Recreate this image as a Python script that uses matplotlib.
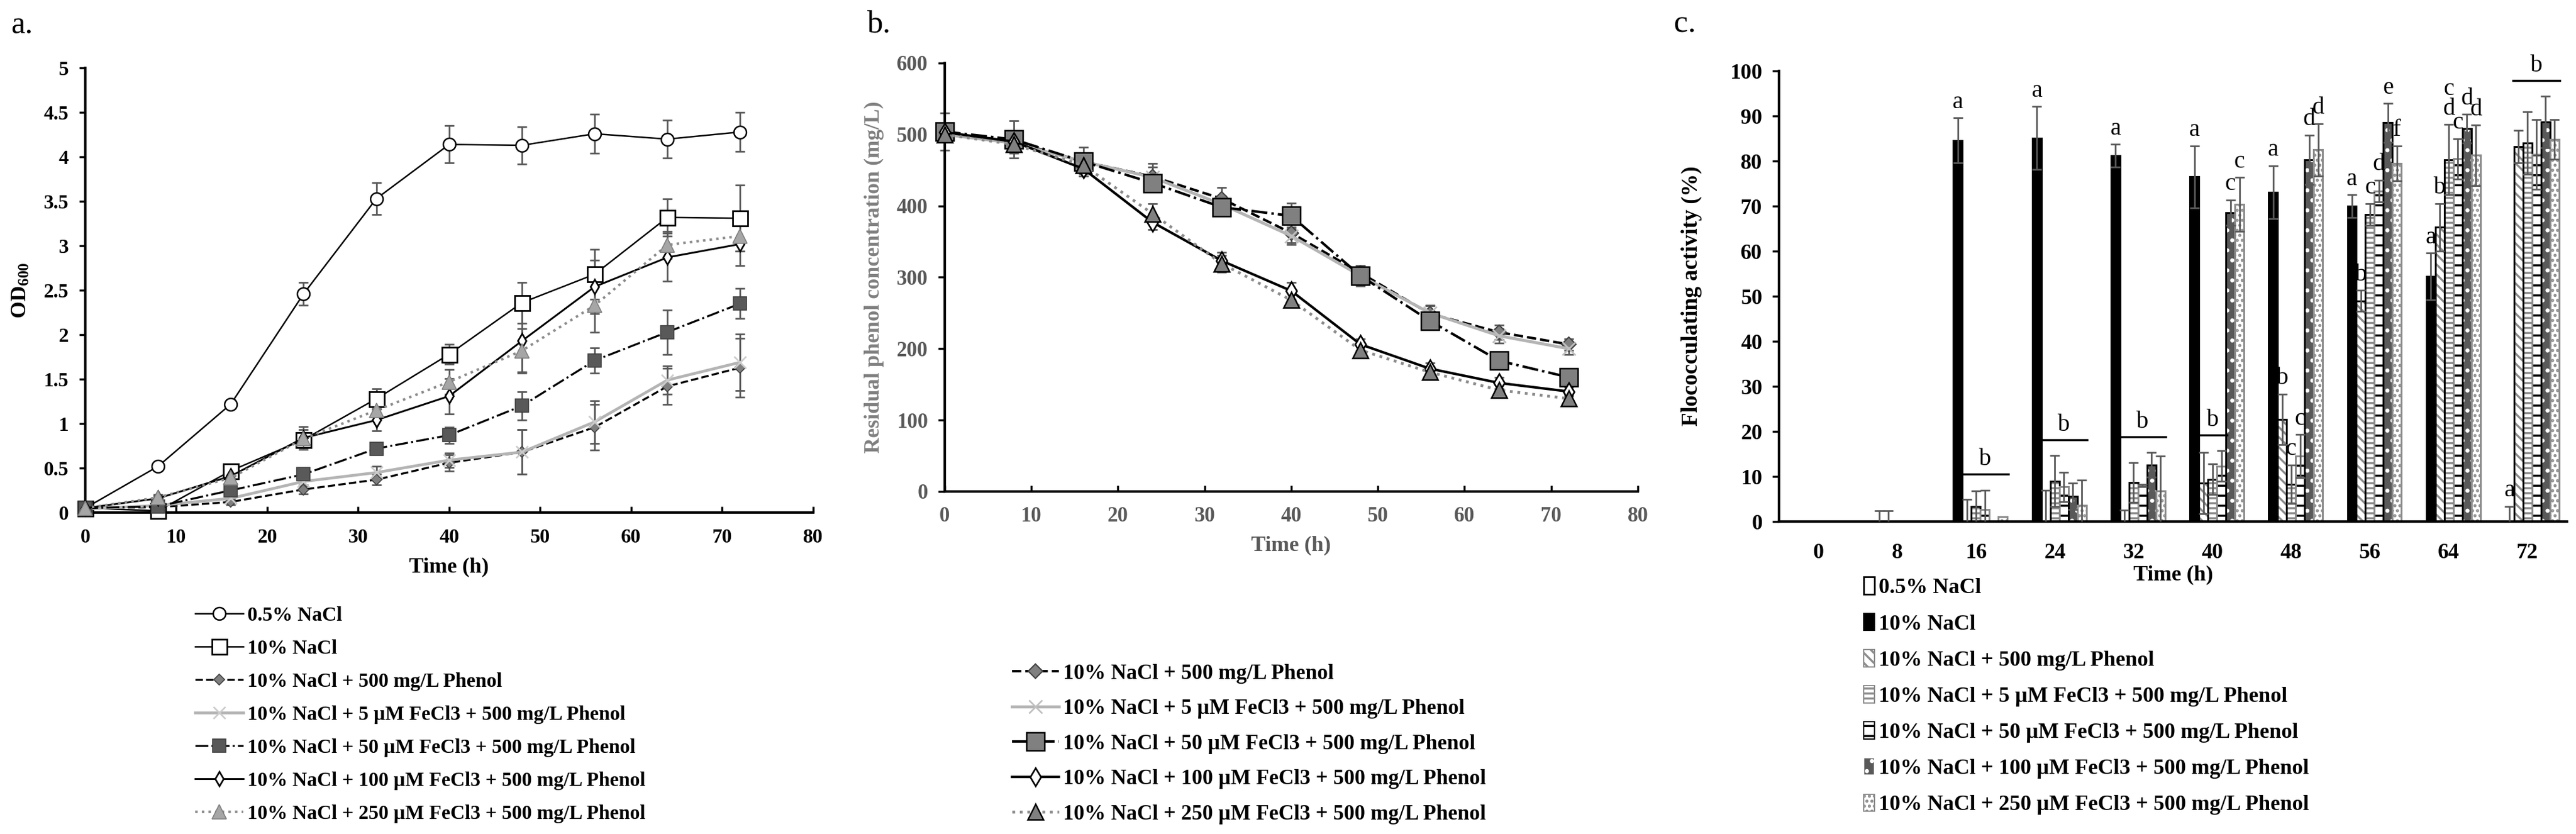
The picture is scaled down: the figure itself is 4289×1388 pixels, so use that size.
import matplotlib
matplotlib.use("Agg")
import matplotlib.pyplot as plt
from matplotlib.lines import Line2D
from matplotlib.patches import Patch
import numpy as np

plt.rcParams['font.family'] = ['Liberation Serif', 'DejaVu Serif']
plt.rcParams['mathtext.fontset'] = 'custom'
plt.rcParams['mathtext.rm'] = 'Liberation Serif:bold'
plt.rcParams['mathtext.it'] = 'Liberation Serif:bold'
plt.rcParams['mathtext.bf'] = 'Liberation Serif:bold'
plt.rcParams['hatch.linewidth'] = 2.5

# sampling times (h)
time = [0, 8, 16, 24, 32, 40, 48, 56, 64, 72]

names = ["0.5% NaCl",
         "10% NaCl",
         "10% NaCl + 500 mg/L Phenol",
         "10% NaCl + 5 µM FeCl3 + 500 mg/L Phenol",
         "10% NaCl + 50 µM FeCl3 + 500 mg/L Phenol",
         "10% NaCl + 100 µM FeCl3 + 500 mg/L Phenol",
         "10% NaCl + 250 µM FeCl3 + 500 mg/L Phenol"]

# a. growth, OD600
od_05 = [0.05, 0.52, 1.22, 2.46, 3.53, 4.14, 4.13, 4.26, 4.20, 4.28]
od_05_err = [0.02, 0.04, 0.05, 0.13, 0.18, 0.21, 0.21, 0.22, 0.21, 0.22]
od_10 = [0.05, 0.02, 0.47, 0.82, 1.28, 1.78, 2.36, 2.68, 3.32, 3.31]
od_10_err = [0.02, 0.03, 0.05, 0.08, 0.11, 0.11, 0.23, 0.28, 0.21, 0.37]
od_ph = [0.05, 0.06, 0.12, 0.26, 0.37, 0.56, 0.68, 0.96, 1.42, 1.63]
od_ph_err = [0.01, 0.02, 0.03, 0.05, 0.06, 0.09, 0.25, 0.26, 0.20, 0.33]
od_fe5 = [0.04, 0.08, 0.16, 0.35, 0.45, 0.59, 0.68, 1.02, 1.49, 1.69]
od_fe5_err = [0.01, 0.02, 0.03, 0.05, 0.07, 0.08, 0.25, 0.24, 0.16, 0.32]
od_fe50 = [0.05, 0.07, 0.25, 0.43, 0.72, 0.87, 1.20, 1.71, 2.03, 2.35]
od_fe50_err = [0.01, 0.02, 0.04, 0.06, 0.05, 0.09, 0.16, 0.14, 0.25, 0.17]
od_fe100 = [0.05, 0.16, 0.41, 0.84, 1.04, 1.31, 1.93, 2.54, 2.87, 3.02]
od_fe100_err = [0.01, 0.03, 0.05, 0.13, 0.12, 0.20, 0.35, 0.30, 0.27, 0.24]
od_fe250 = [0.05, 0.17, 0.39, 0.83, 1.15, 1.47, 1.82, 2.33, 3.01, 3.11]
od_fe250_err = [0.01, 0.03, 0.05, 0.10, 0.11, 0.14, 0.25, 0.30, 0.15, 0.17]

# b. residual phenol (mg/L)
ph_ph = [502, 490, 462, 441, 410, 362, 306, 249, 223, 206]
ph_ph_err = [12, 14, 10, 18, 16, 14, 10, 12, 10, 8]
ph_fe5 = [500, 488, 462, 440, 402, 358, 302, 250, 218, 200]
ph_fe5_err = [10, 12, 10, 14, 12, 12, 10, 10, 10, 8]
ph_fe50 = [504, 493, 462, 432, 398, 386, 302, 239, 183, 160]
ph_fe50_err = [26, 26, 20, 10, 10, 18, 14, 10, 8, 6]
ph_fe100 = [503, 490, 452, 377, 323, 281, 206, 172, 152, 140]
ph_fe100_err = [10, 12, 10, 10, 12, 12, 8, 8, 8, 6]
ph_fe250 = [500, 486, 457, 389, 319, 268, 198, 167, 142, 130]
ph_fe250_err = [10, 12, 12, 14, 12, 10, 8, 8, 8, 6]

# c. flocculating activity (%)
fl_05 = [0, 0, 0, 0, 0, 0, 0, 0, 0, 0]
fl_05_err = [0, 0, 0, 0, 0, 0, 0, 0, 0, 0]
fl_10 = [0, 0, 84.6, 85.1, 81.2, 76.5, 73.1, 70.0, 54.4, 0]
fl_10_err = [0, 2.4, 5.0, 7.0, 2.5, 6.9, 5.9, 2.5, 5.2, 3.4]
fl_ph = [0, 0, 0, 0, 0, 8.5, 22.7, 49.0, 65.3, 83.2]
fl_ph_err = [0, 2.4, 5.0, 7.0, 2.5, 6.8, 5.6, 2.3, 5.3, 3.6]
fl_fe5 = [0, 0, 3.3, 9.0, 8.7, 9.4, 8.3, 68.2, 80.3, 84.0]
fl_fe5_err = [0, 0, 3.5, 5.7, 4.4, 3.4, 4.3, 2.4, 7.8, 6.9]
fl_fe50 = [0, 0, 2.7, 7.7, 8.0, 12.3, 14.5, 73.4, 80.5, 81.5]
fl_fe50_err = [0, 0, 4.3, 3.3, 0.3, 3.4, 4.8, 2.4, 4.5, 7.7]
fl_fe100 = [0, 0, 0, 5.6, 12.6, 68.6, 80.3, 88.5, 87.2, 88.7]
fl_fe100_err = [0, 0, 0, 2.9, 2.7, 2.8, 5.5, 4.3, 3.2, 5.7]
fl_fe250 = [0, 0, 1.1, 3.6, 6.8, 70.4, 82.5, 79.5, 81.3, 84.8]
fl_fe250_err = [0, 0, 0, 5.6, 7.7, 6.0, 5.8, 3.9, 6.7, 4.4]

# significance letters: (time index, bar index, letter)
letters = [(2, 1, 'a'), (3, 1, 'a'), (4, 1, 'a'), (5, 1, 'a'), (5, 5, 'c'), (5, 6, 'c'),
           (6, 1, 'a'), (6, 2, 'b'), (6, 3, 'c'), (6, 4, 'c'), (6, 5, 'd'), (6, 6, 'd'),
           (7, 1, 'a'), (7, 2, 'b'), (7, 3, 'c'), (7, 4, 'd'), (7, 5, 'e'), (7, 6, 'f'),
           (8, 1, 'a'), (8, 2, 'b'), (8, 3, 'c\nd'), (8, 4, 'c'), (8, 5, 'd'), (8, 6, 'd'),
           (9, 1, 'a')]
# bars sharing one letter under a line: (time index, first bar, last bar)
groups = [(2, 2, 6), (3, 2, 6), (4, 2, 6), (5, 2, 4), (9, 2, 6)]

err_col = '#595959'

fig = plt.figure(figsize=(42.89, 13.88), dpi=100)

# ---------------- a. ----------------
ax1 = fig.add_axes([0.0331, 0.3854, 0.2825, 0.5331])
a_vals = [od_05, od_10, od_ph, od_fe5, od_fe50, od_fe100, od_fe250]
a_errs = [od_05_err, od_10_err, od_ph_err, od_fe5_err, od_fe50_err, od_fe100_err, od_fe250_err]
a_styles = [
    dict(color='black', ls='-', lw=1.8, marker='o', ms=15, mfc='white', mec='black', mew=1.8),
    dict(color='black', ls='-', lw=1.8, marker='s', ms=18, mfc='white', mec='black', mew=2),
    dict(color='black', ls='--', lw=2.4, marker='D', ms=9, mfc='#7f7f7f', mec='#404040', mew=1.2),
    dict(color='#b4b4b4', ls='-', lw=3.4, marker='x', ms=14, mec='#cccccc', mew=2),
    dict(color='black', ls='-.', lw=2.4, marker='s', ms=16, mfc='#595959', mec='#404040', mew=1.2),
    dict(color='black', ls='-', lw=2.2, marker='d', ms=12, mfc='white', mec='black', mew=2),
    dict(color='#8c8c8c', ls=':', lw=3, marker='^', ms=17, mfc='#a6a6a6', mec='#7f7f7f', mew=1.2),
]
for vals, errs in zip(a_vals, a_errs):
    ax1.errorbar(time, vals, yerr=errs, fmt='none', ecolor=err_col, elinewidth=2,
                 capsize=6, capthick=2, clip_on=False)
a_handles = []
for vals, st in zip(a_vals, a_styles):
    ax1.plot(time, vals, clip_on=False, zorder=3, **st)
    a_handles.append(Line2D([], [], **st))

ax1.set_xlim(0, 80)
ax1.set_ylim(0, 5)
ax1.set_xticks(range(0, 81, 10))
ax1.set_yticks(np.arange(0, 5.01, 0.5))
ax1.set_yticklabels(['0', '0.5', '1', '1.5', '2', '2.5', '3', '3.5', '4', '4.5', '5'])
ax1.tick_params(axis='x', direction='in', length=7, width=2.5, pad=19, labelsize=24)
ax1.tick_params(axis='y', direction='out', length=7, width=2.5, pad=13, labelsize=24)
for lab in ax1.get_xticklabels() + ax1.get_yticklabels():
    lab.set_fontweight('bold')
for sp in ['top', 'right']:
    ax1.spines[sp].set_visible(False)
for sp in ['left', 'bottom']:
    ax1.spines[sp].set_linewidth(3)
ax1.set_xlabel('Time (h)', fontsize=26, fontweight='bold')
ax1.set_ylabel('OD$_{600}$', fontsize=26, fontweight='bold')
ax1.xaxis.set_label_coords(0.5, -0.1)
ax1.yaxis.set_label_coords(-0.074, 0.5)
fig.legend(a_handles, names, loc='upper left', bbox_to_anchor=(0.0758, 0.2730),
           frameon=False, prop={'size': 24, 'weight': 'bold'}, handlelength=2.4,
           handletextpad=0.2, labelspacing=0.72, borderpad=0, borderaxespad=0)

# ---------------- b. ----------------
ax2 = fig.add_axes([0.3667, 0.4107, 0.2691, 0.5137])
b_vals = [ph_ph, ph_fe5, ph_fe50, ph_fe100, ph_fe250]
b_errs = [ph_ph_err, ph_fe5_err, ph_fe50_err, ph_fe100_err, ph_fe250_err]
b_styles = [
    dict(color='black', ls='--', lw=3, marker='D', ms=12, mfc='#808080', mec='#404040', mew=1.5),
    dict(color='#b4b4b4', ls='-', lw=3.6, marker='x', ms=16, mec='#bfbfbf', mew=2),
    dict(color='black', ls='-.', lw=3, marker='s', ms=21, mfc='#808080', mec='black', mew=1.8),
    dict(color='black', ls='-', lw=3, marker='d', ms=15, mfc='white', mec='black', mew=2),
    dict(color='#8c8c8c', ls=':', lw=3.4, marker='^', ms=19, mfc='#808080', mec='black', mew=1.8),
]
for vals, errs in zip(b_vals, b_errs):
    ax2.errorbar(time, vals, yerr=errs, fmt='none', ecolor=err_col, elinewidth=2,
                 capsize=6, capthick=2, clip_on=False)
b_handles = []
for vals, st in zip(b_vals, b_styles):
    ax2.plot(time, vals, clip_on=False, zorder=3, **st)
    b_handles.append(Line2D([], [], **st))

ax2.set_xlim(0, 80)
ax2.set_ylim(0, 600)
ax2.set_xticks(range(0, 81, 10))
ax2.set_yticks(range(0, 601, 100))
ax2.tick_params(axis='x', direction='in', length=7, width=2.5, pad=18, labelsize=25,
                labelcolor='#595959')
ax2.tick_params(axis='y', direction='out', length=8, width=2.5, pad=12, labelsize=25,
                labelcolor='#595959')
for lab in ax2.get_xticklabels() + ax2.get_yticklabels():
    lab.set_fontweight('bold')
for sp in ['top', 'right']:
    ax2.spines[sp].set_visible(False)
for sp in ['left', 'bottom']:
    ax2.spines[sp].set_linewidth(3)
ax2.set_xlabel('Time (h)', fontsize=26, fontweight='bold', color='#595959')
ax2.set_ylabel('Residual phenol concentration (mg/L)', fontsize=26, fontweight='bold',
               color='#7f7f7f')
ax2.xaxis.set_label_coords(0.5, -0.103)
ax2.yaxis.set_label_coords(-0.0875, 0.5)
fig.legend(b_handles, names[2:], loc='upper left', bbox_to_anchor=(0.3929, 0.2040),
           frameon=False, prop={'size': 25.5, 'weight': 'bold'}, handlelength=2.2,
           handletextpad=0.2, labelspacing=0.72, borderpad=0, borderaxespad=0)

# ---------------- c. ----------------
ax3 = fig.add_axes([0.6906, 0.3746, 0.3059, 0.5403])
c_vals = [fl_05, fl_10, fl_ph, fl_fe5, fl_fe50, fl_fe100, fl_fe250]
c_errs = [fl_05_err, fl_10_err, fl_ph_err, fl_fe5_err, fl_fe50_err, fl_fe100_err, fl_fe250_err]
bar_face = ['white', 'black', 'white', 'white', 'white', '#595959', 'white']
bar_hatch = [None, None, '\\\\', '--', '-', '.', '..']
bar_hatch_col = ['white', 'black', '#8c8c8c', '#8c8c8c', 'black', 'white', '#8c8c8c']
bar_edge = ['black', 'black', 'black', 'black', '#8c8c8c', 'black', '#8c8c8c']

x = np.arange(len(time))
w = 0.8 / len(c_vals)
for i in range(len(c_vals)):
    pos = x + (i - 3) * w
    ax3.bar(pos, c_vals[i], w, color=bar_face[i], edgecolor=bar_hatch_col[i],
            hatch=bar_hatch[i], linewidth=0, zorder=2)
    ax3.bar(pos, c_vals[i], w, fill=False, edgecolor=bar_edge[i], linewidth=2.2, zorder=2)
    e = np.array(c_errs[i])
    keep = e > 0
    ax3.errorbar(pos[keep], np.array(c_vals[i])[keep], yerr=e[keep], fmt='none',
                 ecolor=err_col, elinewidth=2, capsize=6, capthick=2, zorder=3)

for t, s, txt in letters:
    top = c_vals[s][t] + c_errs[s][t]
    ax3.text(x[t] + (s - 3) * w, top + 1.0, txt, ha='center', va='bottom',
             fontsize=29, linespacing=0.85)
for t, s0, s1 in groups:
    y = max(c_vals[s][t] + c_errs[s][t] for s in range(s0, s1 + 1)) + 3.5
    x0 = x[t] + (s0 - 3) * w - 0.6 * w
    x1 = x[t] + (s1 - 3) * w + 0.6 * w
    ax3.plot([x0, x1], [y, y], color='black', lw=2.5, clip_on=False)
    ax3.text((x0 + x1) / 2, y + 0.8, 'b', ha='center', va='bottom', fontsize=29)

ax3.set_xlim(-0.5, len(time) - 0.5)
ax3.set_ylim(0, 100)
ax3.set_xticks(x)
ax3.set_xticklabels([str(t) for t in time])
ax3.set_yticks(range(0, 101, 10))
ax3.tick_params(axis='x', length=0, pad=26, labelsize=26)
ax3.tick_params(axis='y', direction='out', length=8, width=2.5, pad=12, labelsize=26)
for lab in ax3.get_xticklabels() + ax3.get_yticklabels():
    lab.set_fontweight('bold')
for sp in ['top', 'right']:
    ax3.spines[sp].set_visible(False)
for sp in ['left', 'bottom']:
    ax3.spines[sp].set_linewidth(3)
ax3.set_xlabel('Time (h)', fontsize=26, fontweight='bold')
ax3.set_ylabel('Flococculating activity (%)', fontsize=27, fontweight='bold')
ax3.xaxis.set_label_coords(0.5, -0.097)
ax3.yaxis.set_label_coords(-0.0976, 0.5)

c_handles = [Patch(facecolor=bar_face[i], edgecolor=bar_hatch_col[i] if bar_hatch[i] else bar_edge[i],
                   hatch=bar_hatch[i], linewidth=1.5) for i in range(len(c_vals))]
c_handles[0] = Patch(facecolor='white', edgecolor='black', linewidth=2)
fig.legend(c_handles, names, loc='upper left', bbox_to_anchor=(0.7235, 0.3080),
           frameon=False, prop={'size': 26, 'weight': 'bold'}, handlelength=0.5,
           handleheight=0.85, handletextpad=0.2, labelspacing=0.70, borderpad=0,
           borderaxespad=0)

fig.text(18 / 4289, 1 - 43 / 1388, 'a.', fontsize=38, va='center', ha='left')
fig.text(1443 / 4289, 1 - 40 / 1388, 'b.', fontsize=38, va='center', ha='left')
fig.text(2787 / 4289, 1 - 40 / 1388, 'c.', fontsize=38, va='center', ha='left')

fig.savefig('out.png', dpi=100)
